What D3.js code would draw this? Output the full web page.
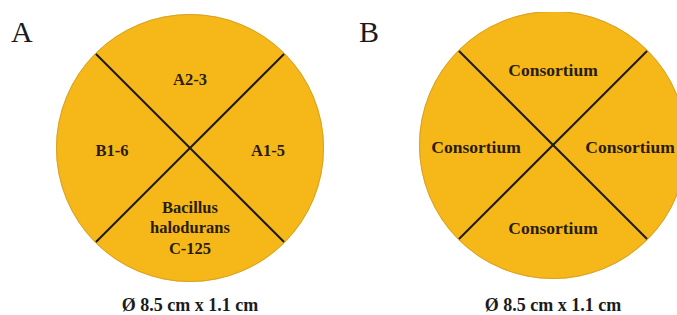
<!DOCTYPE html>
<html>
	<head>
		<meta charset="utf-8">
		<title>Plate layout</title>
		<style>
			html, body { margin: 0; background: #fff; }
			svg { display: block; }
			.panel { font-family: "Liberation Serif", "Times New Roman", serif; font-size: 30px; fill: #1b1b1b; }
			.sector { font-family: "Liberation Serif", "Times New Roman", serif; font-weight: bold; fill: #2a1c0c; }
			.caption { font-family: "Liberation Serif", "Times New Roman", serif; font-weight: bold; font-size: 18px; fill: #1b1b1b; }
		</style>
	</head>
	<body>
		<div id="chart"></div>
		<script src="https://d3js.org/d3.v7.min.js"></script>
		<script>
			// panels and their four sectors (top, right, bottom, left)
			var panelNames = ["A", "B"]
			var sectorsA = [["A2-3"], ["A1-5"], ["Bacillus", "halodurans", "C-125"], ["B1-6"]]
			var sectorsB = [["Consortium"], ["Consortium"], ["Consortium"], ["Consortium"]]
			var captions = ["Ø 8.5 cm x 1.1 cm", "Ø 8.5 cm x 1.1 cm"]

			var width = 677, height = 315, radius = 134
			var centers = [[190, 148], [553, 145]]

			var svg = d3.select("#chart").append("svg")
				.attr("width", width)
				.attr("height", height)

			svg.append("clipPath").attr("id", "clip")
				.append("rect").attr("x", 0).attr("y", 12).attr("width", width).attr("height", height)

			var pie = d3.pie().value(1).sort(null)
				.startAngle(-Math.PI / 4).endAngle(Math.PI * 7 / 4)

			var arc = d3.arc().innerRadius(0).outerRadius(radius)

			var data = [sectorsA, sectorsB]

			data.forEach(function(sectors, p) {
				var g = svg.append("g").attr("transform", "translate(" + centers[p] + ")")
				var plate = g.append("g").attr("clip-path", "url(#clip)")
					.attr("transform", "translate(" + (-centers[p][0]) + "," + (-centers[p][1]) + ")")
					.append("g").attr("transform", "translate(" + centers[p] + ")")

				var slices = pie(sectors)

				plate.selectAll("path.slice")
					.data(slices)
					.enter().append("path")
					.attr("class", "slice")
					.attr("d", arc)
					.attr("fill", "#f6b819")

				plate.append("circle")
					.attr("r", radius - 0.5)
					.attr("fill", "none")
					.attr("stroke", "#d8a22a")
					.attr("stroke-width", 1)

				// dividing lines at each sector boundary
				plate.selectAll("line.div")
					.data(slices.slice(0, 2))
					.enter().append("line")
					.attr("class", "div")
					.attr("x1", function(d) { return d3.pointRadial(d.startAngle, radius - 1)[0] })
					.attr("y1", function(d) { return d3.pointRadial(d.startAngle, radius - 1)[1] })
					.attr("x2", function(d) { return d3.pointRadial(d.startAngle + Math.PI, radius - 1)[0] })
					.attr("y2", function(d) { return d3.pointRadial(d.startAngle + Math.PI, radius - 1)[1] })
					.attr("stroke", "#1e1a14")
					.attr("stroke-width", 2)

				var labelR = p === 0 ? 78 : 77
				var fs = p === 0 ? 16.5 : 17.5, lh = 20.5

				var lbl = g.selectAll("text.sector")
					.data(slices)
					.enter().append("text")
					.attr("class", "sector")
					.attr("text-anchor", "middle")
					.attr("font-size", fs)
					.attr("transform", function(d) {
						var a = (d.startAngle + d.endAngle) / 2
						var pt = d3.pointRadial(a, labelR)
						if (d.index === 0) pt[1] += p === 0 ? 9 : 2
						if (d.index === 2) pt[1] += p === 0 ? 1 : 6
						if (d.index % 2 === 1) pt[1] += 1.5
						return "translate(" + pt + ")"
					})

				lbl.selectAll("tspan")
					.data(function(d) { return d.data.map(function(t, i) { return { t: t, i: i, n: d.data.length } }) })
					.enter().append("tspan")
					.attr("x", 0)
					.attr("y", function(d) { return (d.i - (d.n - 1) / 2) * lh + 6 })
					.text(function(d) { return d.t })

				svg.append("text")
					.attr("class", "panel")
					.attr("x", p === 0 ? 11 : 359)
					.attr("y", 42)
					.text(panelNames[p])

				svg.append("text")
					.attr("class", "caption")
					.attr("text-anchor", "middle")
					.attr("x", centers[p][0])
					.attr("y", 311)
					.text(captions[p])
			})
		</script>
	</body>
</html>
